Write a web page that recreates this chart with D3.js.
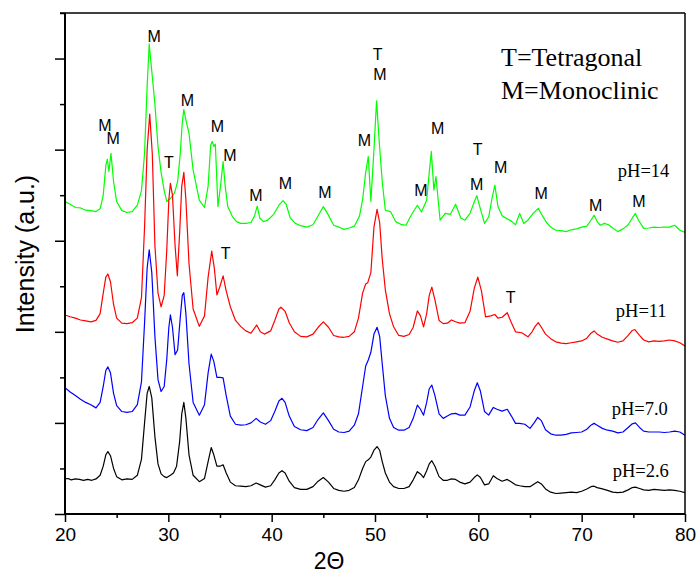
<!DOCTYPE html>
<html>
<head>
<meta charset="utf-8">
<script src="https://cdn.jsdelivr.net/npm/d3@7/dist/d3.min.js"></script>
<style>
  html, body { margin: 0; padding: 0; background: #fff; }
  svg { display: block; }
</style>
</head>
<body>
<svg id="chart" width="698" height="573"></svg>
<script>
// XRD patterns of ZrO2 powders prepared at different pH (stacked, arbitrary units)
const ph26 = [[20,0.77],[20.3,0.78],[20.6,0.75],[21,0.77],[21.4,0.76],[21.8,0.74],[22.2,0.76],[22.6,0.74],[23,0.77],[23.4,0.85],[23.7,1.05],[23.95,1.3],[24.15,1.37],[24.4,1.28],[24.7,1.0],[25,0.82],[25.5,0.75],[26,0.77],[26.5,0.76],[27,0.85],[27.4,1.2],[27.7,2.0],[27.95,2.65],[28.15,2.8],[28.4,2.55],[28.7,1.7],[29,1.1],[29.3,0.88],[29.6,0.82],[29.85,0.8],[30.2,0.85],[30.5,0.9],[30.8,1.05],[31.1,1.6],[31.3,2.2],[31.5,2.45],[31.7,2.1],[32,1.3],[32.4,0.85],[33,0.71],[33.5,0.78],[33.85,1.15],[34.15,1.46],[34.4,1.3],[34.7,1.05],[35,1.05],[35.3,1.08],[35.6,0.9],[36,0.7],[36.5,0.62],[37,0.61],[37.5,0.6],[38,0.62],[38.5,0.68],[38.9,0.64],[39.4,0.59],[39.9,0.62],[40.3,0.75],[40.7,0.9],[41,0.95],[41.3,0.9],[41.7,0.72],[42.2,0.58],[42.8,0.54],[43.4,0.54],[44,0.6],[44.5,0.72],[45,0.8],[45.5,0.7],[46,0.56],[46.5,0.52],[47,0.5],[47.5,0.52],[48,0.58],[48.4,0.75],[48.8,1.0],[49.1,1.15],[49.35,1.19],[49.6,1.25],[49.9,1.4],[50.2,1.48],[50.45,1.4],[50.7,1.15],[51,0.9],[51.4,0.7],[51.8,0.6],[52.3,0.56],[52.8,0.56],[53.3,0.6],[53.7,0.75],[54.1,0.93],[54.4,0.88],[54.7,0.8],[55,0.95],[55.25,1.1],[55.5,1.17],[55.8,1.05],[56.2,0.82],[56.6,0.74],[57,0.74],[57.4,0.77],[57.8,0.76],[58.2,0.7],[58.7,0.66],[59.2,0.7],[59.6,0.8],[59.9,0.86],[60.2,0.8],[60.6,0.64],[61,0.66],[61.45,0.84],[61.8,0.78],[62.3,0.72],[62.8,0.76],[63.2,0.7],[63.6,0.64],[64,0.62],[64.5,0.6],[65,0.6],[65.4,0.66],[65.75,0.71],[66.1,0.66],[66.5,0.55],[67,0.48],[67.5,0.45],[68,0.46],[68.5,0.47],[69,0.48],[69.5,0.47],[70,0.5],[70.5,0.55],[70.9,0.6],[71.2,0.61],[71.5,0.58],[72,0.55],[72.5,0.52],[73,0.48],[73.5,0.47],[74,0.48],[74.5,0.53],[74.9,0.58],[75.2,0.59],[75.6,0.56],[76,0.53],[76.5,0.52],[77,0.54],[77.5,0.53],[78,0.52],[78.5,0.53],[79,0.52],[79.5,0.5],[80,0.47]];

const ph70 = [[20,2.77],[20.5,2.68],[21,2.6],[21.5,2.52],[22,2.45],[22.5,2.4],[23,2.33],[23.4,2.45],[23.7,2.8],[23.95,3.15],[24.15,3.23],[24.4,3.1],[24.7,2.65],[25,2.38],[25.5,2.25],[26,2.23],[26.5,2.25],[27,2.4],[27.4,2.9],[27.7,4.2],[27.95,5.4],[28.15,5.8],[28.4,5.3],[28.7,3.9],[29,2.95],[29.3,2.69],[29.6,2.8],[29.85,3.4],[30.05,4.1],[30.2,4.37],[30.4,4.1],[30.65,3.5],[30.9,3.6],[31.15,4.3],[31.35,4.8],[31.5,4.86],[31.7,4.4],[32,3.3],[32.4,2.45],[33,2.17],[33.5,2.4],[33.85,3.1],[34.15,3.51],[34.4,3.35],[34.7,3.0],[35,3.0],[35.3,2.99],[35.6,2.6],[36,2.15],[36.5,1.97],[37,1.95],[37.5,1.96],[38,2.0],[38.5,2.1],[38.9,2.02],[39.4,1.97],[39.9,2.05],[40.3,2.25],[40.7,2.48],[41,2.54],[41.3,2.45],[41.7,2.15],[42.2,1.92],[42.8,1.85],[43.4,1.83],[44,1.9],[44.5,2.08],[45,2.22],[45.5,2.05],[46,1.86],[46.5,1.8],[47,1.79],[47.5,1.82],[48,1.95],[48.4,2.2],[48.8,2.8],[49.1,3.25],[49.35,3.38],[49.6,3.55],[49.9,3.95],[50.2,4.1],[50.45,3.9],[50.7,3.3],[51,2.6],[51.4,2.1],[51.8,1.9],[52.3,1.84],[52.8,1.84],[53.3,1.9],[53.7,2.1],[54.1,2.39],[54.4,2.3],[54.7,2.17],[55,2.45],[55.25,2.75],[55.5,2.83],[55.8,2.6],[56.2,2.2],[56.6,2.1],[57,2.15],[57.4,2.2],[57.8,2.21],[58.2,2.17],[58.7,2.17],[59.2,2.35],[59.6,2.7],[59.9,2.88],[60.2,2.7],[60.6,2.25],[61,2.17],[61.45,2.34],[61.8,2.3],[62.3,2.26],[62.8,2.3],[63.2,2.15],[63.6,1.99],[64,1.99],[64.5,1.97],[65,1.88],[65.4,2.0],[65.75,2.12],[66.1,2.05],[66.5,1.85],[67,1.76],[67.5,1.73],[68,1.73],[68.5,1.75],[69,1.78],[69.5,1.79],[70,1.8],[70.5,1.86],[70.9,1.95],[71.2,1.99],[71.5,1.95],[72,1.88],[72.5,1.84],[73,1.82],[73.5,1.78],[74,1.8],[74.5,1.9],[74.9,1.98],[75.2,2.0],[75.6,1.9],[76,1.82],[76.5,1.8],[77,1.8],[77.5,1.8],[78,1.79],[78.5,1.8],[79,1.82],[79.5,1.8],[80,1.73]];

const ph11 = [[20,4.37],[20.5,4.33],[21,4.3],[21.5,4.26],[22,4.24],[22.5,4.22],[23,4.25],[23.4,4.4],[23.7,4.85],[23.95,5.2],[24.15,5.27],[24.4,5.1],[24.7,4.6],[25,4.3],[25.5,4.19],[26,4.18],[26.5,4.2],[27,4.3],[27.4,4.75],[27.7,6.3],[27.95,8.0],[28.2,8.78],[28.45,7.9],[28.7,5.9],[29,4.85],[29.3,4.55],[29.6,4.8],[29.85,5.8],[30.05,6.9],[30.2,7.26],[30.4,7.0],[30.65,5.9],[30.87,5.23],[31.1,6.2],[31.3,7.2],[31.5,7.5],[31.7,6.9],[32,5.5],[32.4,4.5],[33,4.12],[33.5,4.35],[33.85,5.2],[34.2,5.77],[34.45,5.4],[34.7,4.81],[35,5.0],[35.3,5.23],[35.6,4.9],[36,4.55],[36.5,4.25],[37,4.12],[37.5,4.02],[38,3.97],[38.55,4.15],[38.9,4.0],[39.3,3.95],[39.9,4.02],[40.3,4.25],[40.7,4.5],[40.9,4.54],[41.3,4.45],[41.7,4.2],[42.2,4.0],[42.8,3.9],[43.4,3.89],[44,3.95],[44.5,4.1],[45,4.22],[45.5,4.1],[46,3.92],[46.5,3.89],[47,3.88],[47.5,3.9],[48,4.0],[48.4,4.3],[48.8,4.85],[49.1,5.05],[49.3,5.08],[49.6,5.3],[49.9,6.3],[50.2,6.69],[50.45,6.4],[50.7,5.6],[51,4.92],[51.4,4.4],[51.8,4.11],[52.3,3.92],[52.8,3.9],[53.3,3.94],[53.7,4.1],[54.1,4.46],[54.4,4.35],[54.7,4.11],[55,4.4],[55.25,4.8],[55.5,4.98],[55.8,4.7],[56.2,4.25],[56.6,4.18],[57,4.19],[57.4,4.26],[57.8,4.22],[58.2,4.19],[58.7,4.2],[59.2,4.45],[59.6,4.95],[59.95,5.2],[60.3,4.9],[60.7,4.33],[61.2,4.35],[61.6,4.38],[61.9,4.3],[62.3,4.32],[62.8,4.42],[63.2,4.2],[63.6,4.0],[64.2,3.98],[64.8,3.89],[65.2,4.0],[65.5,4.12],[65.8,4.2],[66.1,4.1],[66.5,3.95],[67,3.85],[67.5,3.78],[68,3.75],[68.5,3.74],[69,3.76],[69.5,3.78],[70,3.8],[70.5,3.86],[70.9,3.97],[71.2,4.02],[71.5,3.95],[72,3.88],[72.5,3.84],[73,3.8],[73.5,3.77],[74,3.8],[74.5,3.92],[74.9,4.03],[75.15,4.05],[75.6,3.92],[76,3.82],[76.5,3.78],[77,3.8],[77.5,3.79],[78,3.8],[78.5,3.82],[79,3.8],[79.5,3.76],[80,3.69]];

const ph14 = [[20,6.86],[20.5,6.8],[21,6.73],[21.5,6.72],[22,6.67],[22.5,6.66],[23,6.64],[23.4,6.7],[23.7,7.0],[23.95,7.65],[24.1,7.79],[24.25,7.52],[24.45,7.92],[24.7,7.3],[25,6.86],[25.5,6.66],[26,6.62],[26.5,6.64],[27,6.78],[27.4,7.1],[27.7,7.92],[27.95,9.4],[28.15,10.32],[28.45,9.6],[28.7,9.0],[29,8.07],[29.3,7.5],[29.6,7.1],[29.85,6.86],[30.05,6.9],[30.3,6.95],[30.6,7.05],[30.9,7.3],[31.15,7.9],[31.35,8.6],[31.5,8.88],[31.7,8.65],[32,8.36],[32.4,7.55],[33,6.89],[33.5,6.73],[33.85,7.2],[34.1,8.1],[34.25,8.18],[34.4,8.07],[34.55,8.12],[34.8,6.75],[35.05,7.2],[35.3,7.74],[35.5,7.2],[35.75,6.75],[36.2,6.53],[36.6,6.42],[37,6.38],[37.5,6.38],[38,6.4],[38.35,6.55],[38.6,6.76],[38.85,6.5],[39.2,6.42],[39.6,6.45],[40.2,6.58],[40.7,6.78],[41.1,6.88],[41.4,6.8],[41.8,6.5],[42.3,6.38],[42.8,6.33],[43.4,6.3],[44,6.35],[44.5,6.55],[45,6.75],[45.4,6.6],[46,6.34],[46.5,6.3],[47,6.25],[47.5,6.28],[48,6.32],[48.5,6.54],[48.8,6.9],[49.1,7.5],[49.35,7.85],[49.6,6.86],[49.9,8.0],[50.15,9.07],[50.4,8.2],[50.7,7.3],[51,6.67],[51.5,6.64],[52,6.42],[52.5,6.36],[53,6.34],[53.5,6.56],[54.1,6.78],[54.5,6.63],[55,6.89],[55.25,7.5],[55.45,7.96],[55.7,7.11],[55.9,7.41],[56.3,6.45],[56.8,6.6],[57.3,6.58],[57.8,6.8],[58.3,6.5],[58.7,6.45],[59.2,6.6],[59.6,6.85],[59.85,6.99],[60.2,6.7],[60.6,6.38],[61,6.52],[61.3,6.9],[61.6,7.22],[61.9,6.75],[62.3,6.55],[62.8,6.48],[63.2,6.43],[63.6,6.35],[64,6.6],[64.4,6.38],[64.8,6.45],[65.3,6.6],[65.8,6.71],[66.2,6.55],[66.6,6.4],[67,6.3],[67.5,6.23],[68,6.22],[68.5,6.2],[69,6.24],[69.5,6.26],[70,6.3],[70.5,6.32],[70.9,6.45],[71.2,6.56],[71.5,6.42],[71.8,6.34],[72.2,6.38],[72.6,6.35],[73,6.28],[73.5,6.2],[74,6.26],[74.5,6.35],[74.9,6.5],[75.2,6.6],[75.5,6.45],[76,6.27],[76.5,6.28],[77,6.3],[77.5,6.29],[78,6.3],[78.5,6.3],[79,6.34],[79.5,6.23],[80,6.18]];

// series: name, data, colour, label anchor [2θ, intensity]
const seriesNames = ["pH=2.6", "pH=7.0", "pH=11", "pH=14"];
const seriesColors = ["#000000", "#0000ff", "#ff0000", "#00ff00"];
const seriesData = [ph26, ph70, ph11, ph14];
const seriesLabelPos = [[73.0, 0.81], [72.9, 2.17], [73.3, 4.32], [73.5, 7.40]];

// phase markers: letter, 2θ, intensity of label centre
const peakMarks = [
  ["M", 23.87, 8.54], ["M", 24.67, 8.25], ["M", 28.64, 10.49], ["T", 30.06, 7.71],
  ["M", 31.84, 9.07], ["M", 34.74, 8.50], ["M", 35.97, 7.88], ["M", 38.48, 7.0],
  ["M", 41.32, 7.26], ["T", 35.55, 5.71], ["M", 45.16, 7.05], ["M", 48.97, 8.20],
  ["T", 50.26, 10.09], ["M", 50.48, 9.64], ["M", 54.45, 7.10], ["M", 56.07, 8.47],
  ["T", 59.94, 8.01], ["M", 59.84, 7.24], ["M", 62.17, 7.61], ["M", 66.07, 7.03],
  ["M", 71.36, 6.78], ["M", 75.55, 6.86], ["T", 63.13, 4.76]
];

const legendLines = ["T=Tetragonal", "M=Monoclinic"];
const xMajorTicks = [20, 30, 40, 50, 60, 70, 80];
const xMinorTicks = [25, 35, 45, 55, 65, 75];
const yMajorTicks = [0, 2, 4, 6, 8, 10];
const yMinorTicks = [1, 3, 5, 7, 9, 11];

const svg = d3.select("#chart");
const x = d3.scaleLinear().domain([20, 80]).range([65, 685]);
const y = d3.scaleLinear().domain([0, 11]).range([514, 13]);

svg.append("defs").append("clipPath").attr("id", "plotClip")
  .append("rect").attr("x", 65).attr("y", 13).attr("width", 620).attr("height", 501);

// patterns
const line = d3.line().x(d => x(d[0])).y(d => y(d[1]));
const plot = svg.append("g").attr("clip-path", "url(#plotClip)");
[3, 2, 1, 0].forEach(i => {
  plot.append("path")
    .datum(seriesData[i])
    .attr("fill", "none")
    .attr("stroke", seriesColors[i])
    .attr("stroke-width", 1.2)
    .attr("stroke-linejoin", "round")
    .attr("d", line);
});

// frame
svg.append("line").attr("x1", 60).attr("x2", 685).attr("y1", y(11)).attr("y2", y(11))
  .attr("stroke", "#000").attr("stroke-width", 1.5);
svg.append("line").attr("x1", 685).attr("x2", 685).attr("y1", 13).attr("y2", 514)
  .attr("stroke", "#000").attr("stroke-width", 1.5);

// x axis
const xAxis = svg.append("g").attr("transform", "translate(0,514)")
  .call(d3.axisBottom(x).tickValues(xMajorTicks).tickSize(8).tickPadding(6).tickFormat(d3.format("d")));
svg.append("g").attr("transform", "translate(0,514)")
  .call(d3.axisBottom(x).tickValues(xMinorTicks).tickSize(4).tickFormat(""))
  .select(".domain").remove();
xAxis.select(".domain").attr("stroke-width", 2).attr("d", "M65,0H685");
xAxis.selectAll("text").attr("font-family", "'Liberation Sans', Arial, sans-serif")
  .attr("font-size", 19).attr("fill", "#000");

// y axis (ticks only)
const yAxis = svg.append("g").attr("transform", "translate(65,0)")
  .call(d3.axisLeft(y).tickValues(yMajorTicks).tickSize(10).tickFormat(""));
svg.append("g").attr("transform", "translate(65,0)")
  .call(d3.axisLeft(y).tickValues(yMinorTicks).tickSize(5).tickFormat(""))
  .select(".domain").remove();
yAxis.select(".domain").attr("stroke-width", 2).attr("d", "M0,514V13");
svg.selectAll(".tick line").attr("stroke-width", 1.5);

// axis titles
svg.append("text")
  .attr("transform", "translate(34,254) rotate(-90)")
  .attr("text-anchor", "middle")
  .attr("font-family", "'Liberation Sans', Arial, sans-serif")
  .attr("font-size", 25)
  .text("Intensity (a.u.)");
svg.append("text")
  .attr("x", 329).attr("y", 569)
  .attr("text-anchor", "middle")
  .attr("font-family", "'Liberation Sans', Arial, sans-serif")
  .attr("font-size", 23)
  .text("2\u0398");

// series labels
svg.append("g").selectAll("text").data(seriesNames).join("text")
  .attr("x", (d, i) => x(seriesLabelPos[i][0]))
  .attr("y", (d, i) => y(seriesLabelPos[i][1]))
  .attr("font-family", "'Liberation Serif', 'Times New Roman', serif")
  .attr("font-size", 18.5)
  .text(d => d);

// phase markers
svg.append("g").selectAll("text").data(peakMarks).join("text")
  .attr("x", d => x(d[1]))
  .attr("y", d => y(d[2]))
  .attr("text-anchor", "middle")
  .attr("dominant-baseline", "central")
  .attr("font-family", "'Liberation Sans', Arial, sans-serif")
  .attr("font-size", 16)
  .text(d => d[0]);

// phase key
svg.append("g").selectAll("text").data(legendLines).join("text")
  .attr("x", 501)
  .attr("y", (d, i) => 66 + i * 33)
  .attr("font-family", "'Liberation Serif', 'Times New Roman', serif")
  .attr("font-size", 26)
  .text(d => d);
</script>
</body>
</html>
